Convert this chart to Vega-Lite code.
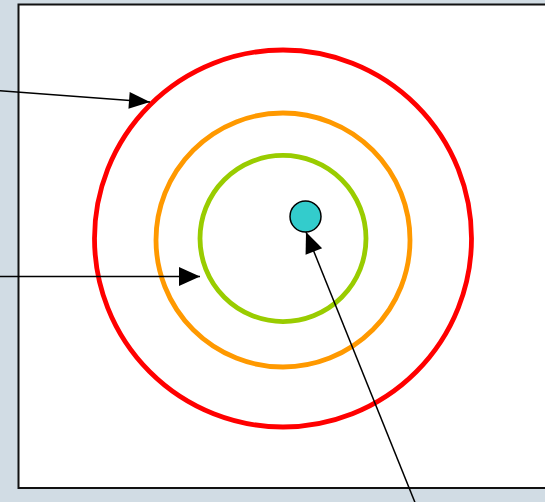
{
  "$schema": "https://vega.github.io/schema/vega-lite/v6.json",
  "width": 545,
  "height": 502,
  "padding": 0,
  "autosize": {"type": "none"},
  "background": "#d1dce4",
  "config": {"view": {"stroke": null}},
  "datasets": {
    "box": [{"x1": 18.5, "x2": 548, "y1": 4.5, "y2": 488}],
    "rings": [
      {"ring": "outer", "cx": 283, "cy": 238.5, "r": 188.5},
      {"ring": "middle", "cx": 283, "cy": 240, "r": 127},
      {"ring": "inner", "cx": 283, "cy": 238.5, "r": 83}
    ],
    "dot": [{"cx": 305.5, "cy": 216.5, "r": 15.5}],
    "arrows": [
      {"id": 1, "x": -2, "y": 90.5, "xt": 150, "yt": 102},
      {"id": 2, "x": -2, "y": 276.5, "xt": 200, "yt": 276.5},
      {"id": 3, "x": 416, "y": 505, "xt": 306, "yt": 232}
    ]
  },
  "layer": [
    {
      "data": {"name": "box"},
      "mark": {"type": "rect", "fill": "white", "stroke": "#111111", "strokeWidth": 2},
      "encoding": {
        "x": {"field": "x1", "type": "quantitative", "scale": {"domain": [0, 545], "nice": false, "zero": false}, "axis": null},
        "x2": {"field": "x2"},
        "y": {"field": "y1", "type": "quantitative", "scale": {"domain": [0, 502], "nice": false, "zero": false, "reverse": true}, "axis": null},
        "y2": {"field": "y2"}
      }
    },
    {
      "data": {"name": "rings"},
      "mark": {"type": "point", "shape": "circle", "filled": false, "strokeWidth": 4.8, "opacity": 1},
      "encoding": {
        "x": {"field": "cx", "type": "quantitative", "scale": {"domain": [0, 545], "nice": false, "zero": false}, "axis": null},
        "y": {"field": "cy", "type": "quantitative", "scale": {"domain": [0, 502], "nice": false, "zero": false, "reverse": true}, "axis": null},
        "size": {"field": "r", "type": "quantitative", "scale": {"type": "pow", "exponent": 2, "domain": [0, 200], "range": [0, 160000]}, "legend": null},
        "color": {"field": "ring", "type": "nominal", "scale": {"domain": ["outer", "middle", "inner"], "range": ["#ff0000", "#ff9900", "#99cc00"]}, "legend": null}
      }
    },
    {
      "data": {"name": "dot"},
      "mark": {"type": "point", "shape": "circle", "filled": true, "fill": "#33cccc", "stroke": "#000000", "strokeWidth": 1.5, "opacity": 1, "fillOpacity": 1},
      "encoding": {
        "x": {"field": "cx", "type": "quantitative", "scale": {"domain": [0, 545], "nice": false, "zero": false}, "axis": null},
        "y": {"field": "cy", "type": "quantitative", "scale": {"domain": [0, 502], "nice": false, "zero": false, "reverse": true}, "axis": null},
        "size": {"field": "r", "type": "quantitative", "scale": {"type": "pow", "exponent": 2, "domain": [0, 200], "range": [0, 160000]}, "legend": null}
      }
    },
    {
      "data": {"name": "arrows"},
      "mark": {"type": "rule", "color": "#000000", "strokeWidth": 1.5},
      "encoding": {
        "x": {"field": "x", "type": "quantitative", "scale": {"domain": [0, 545], "nice": false, "zero": false}, "axis": null},
        "y": {"field": "y", "type": "quantitative", "scale": {"domain": [0, 502], "nice": false, "zero": false, "reverse": true}, "axis": null},
        "x2": {"field": "xt"},
        "y2": {"field": "yt"}
      }
    },
    {
      "data": {"name": "arrows"},
      "transform": [{"filter": "datum.id == 1"}],
      "mark": {"type": "point", "shape": "M0,0 L-2,-0.8 L-2,0.8 Z", "filled": true, "color": "#000000", "size": 441, "angle": 4.3, "opacity": 1},
      "encoding": {
        "x": {"field": "xt", "type": "quantitative", "scale": {"domain": [0, 545], "nice": false, "zero": false}, "axis": null},
        "y": {"field": "yt", "type": "quantitative", "scale": {"domain": [0, 502], "nice": false, "zero": false, "reverse": true}, "axis": null}
      }
    },
    {
      "data": {"name": "arrows"},
      "transform": [{"filter": "datum.id == 2"}],
      "mark": {"type": "point", "shape": "M0,0 L-2,-0.9 L-2,0.9 Z", "filled": true, "color": "#000000", "size": 441, "angle": 0, "opacity": 1},
      "encoding": {
        "x": {"field": "xt", "type": "quantitative", "scale": {"domain": [0, 545], "nice": false, "zero": false}, "axis": null},
        "y": {"field": "yt", "type": "quantitative", "scale": {"domain": [0, 502], "nice": false, "zero": false, "reverse": true}, "axis": null}
      }
    },
    {
      "data": {"name": "arrows"},
      "transform": [{"filter": "datum.id == 3"}],
      "mark": {"type": "point", "shape": "M0,0 L-2,-0.85 L-2,0.85 Z", "filled": true, "color": "#000000", "size": 441, "angle": 248, "opacity": 1},
      "encoding": {
        "x": {"field": "xt", "type": "quantitative", "scale": {"domain": [0, 545], "nice": false, "zero": false}, "axis": null},
        "y": {"field": "yt", "type": "quantitative", "scale": {"domain": [0, 502], "nice": false, "zero": false, "reverse": true}, "axis": null}
      }
    }
  ]
}
